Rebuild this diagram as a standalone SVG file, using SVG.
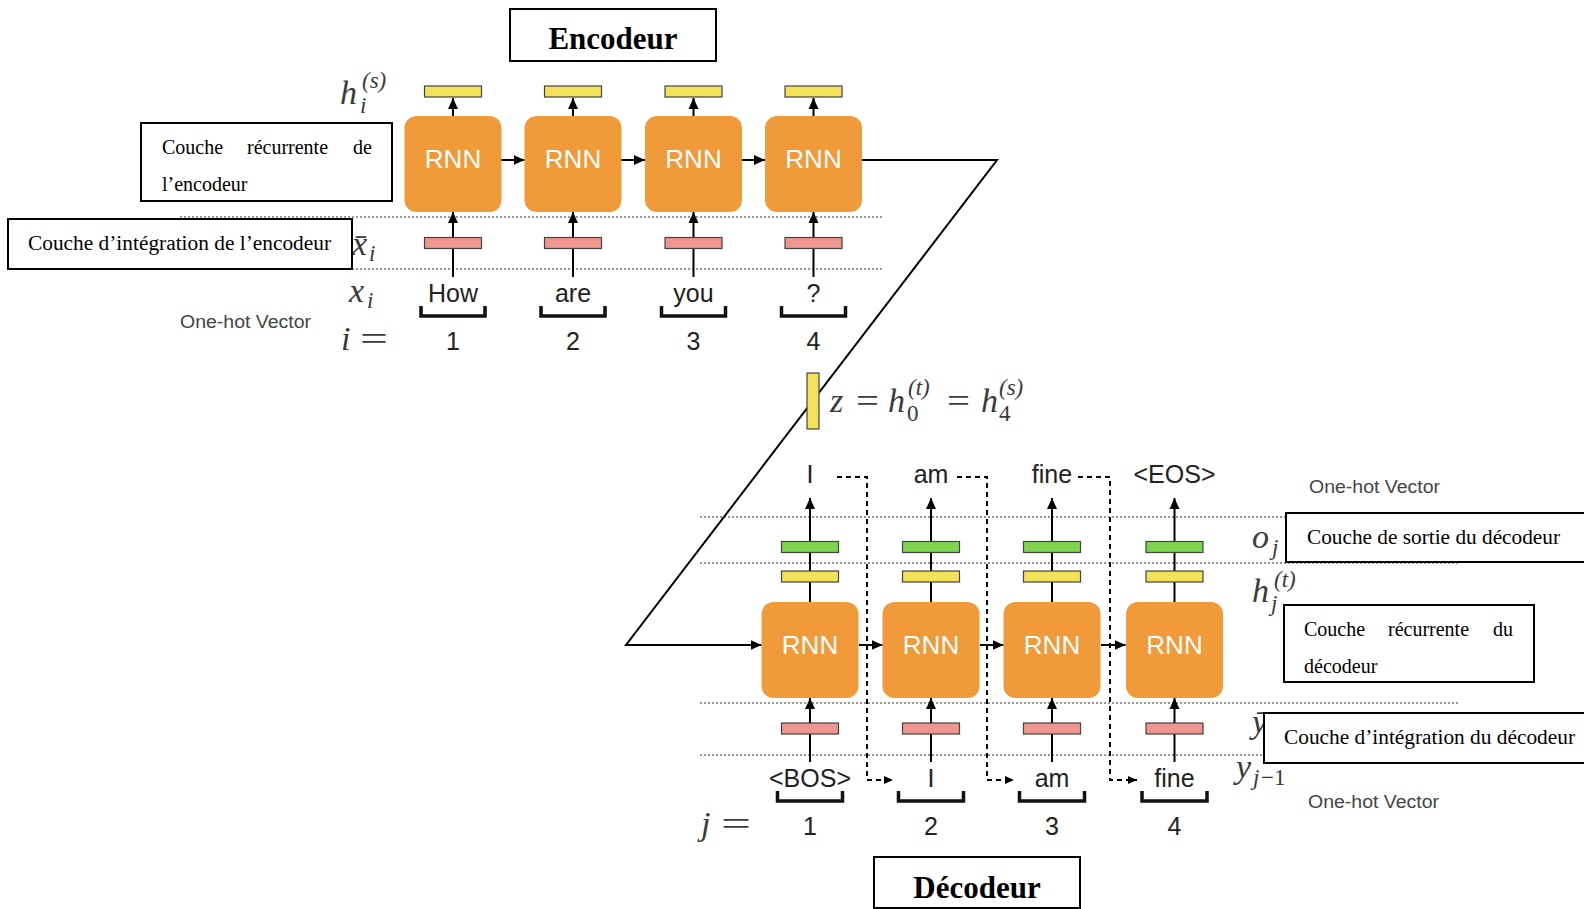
<svg xmlns="http://www.w3.org/2000/svg" width="1584" height="909" viewBox="0 0 1584 909">
<defs>
<style>
.rnn{fill:#F09A39;}
.rt{font-family:"Liberation Sans",Arial,sans-serif;font-size:26px;fill:#fff;text-anchor:middle;}
.yb{fill:#F4E15A;stroke:#444;stroke-width:1.2;}
.gb{fill:#7ED44F;stroke:#444;stroke-width:1.2;}
.pb{fill:#EF9690;stroke:#444;stroke-width:1.2;}
.dot{stroke:#777;stroke-width:1.5;stroke-dasharray:2 2;fill:none;}
.ln{stroke:#000;stroke-width:2;fill:none;}
.dash{stroke:#000;stroke-width:2;stroke-dasharray:5 4;fill:none;}
.w{font-family:"Liberation Sans",Arial,sans-serif;font-size:25px;fill:#222;text-anchor:middle;}
.br{stroke:#111;stroke-width:3.5;fill:none;}
.oh{font-family:"Liberation Sans",Arial,sans-serif;font-size:18px;fill:#444;}
.m{font-family:"Liberation Serif","Times New Roman",serif;font-style:italic;font-size:34px;fill:#3a3a3a;}
.ms{font-family:"Liberation Serif","Times New Roman",serif;font-style:italic;font-size:23px;fill:#3a3a3a;}
.mr{font-family:"Liberation Serif","Times New Roman",serif;font-size:34px;fill:#3a3a3a;}
.mrs{font-family:"Liberation Serif","Times New Roman",serif;font-size:23px;fill:#3a3a3a;}
.box{fill:#fff;stroke:#000;stroke-width:2;}
.lt{font-family:"Liberation Serif","Times New Roman",serif;font-size:20px;fill:#000;}
.tt{font-family:"Liberation Serif","Times New Roman",serif;font-size:31px;font-weight:bold;fill:#000;text-anchor:middle;}
</style>
<marker id="ah" markerUnits="userSpaceOnUse" markerWidth="12" markerHeight="12" viewBox="0 0 12 12" refX="11" refY="6" orient="auto">
<path d="M0,1 L11,6 L0,11 Z" fill="#000"/>
</marker>
<marker id="ahs" markerUnits="userSpaceOnUse" markerWidth="10" markerHeight="10" viewBox="0 0 10 10" refX="9" refY="5" orient="auto">
<path d="M0,1 L9,5 L0,9 Z" fill="#000"/>
</marker>
</defs>
<rect width="1584" height="909" fill="#fff"/>

<!-- dotted guide lines -->
<g id="guides">
<line class="dot" x1="180" y1="217" x2="884" y2="217"/>
<line class="dot" x1="180" y1="269" x2="884" y2="269"/>
<line class="dot" x1="700" y1="517" x2="1286" y2="517"/>
<line class="dot" x1="700" y1="563" x2="1458" y2="563"/>
<line class="dot" x1="700" y1="703" x2="1458" y2="703"/>
<line class="dot" x1="700" y1="755" x2="1264" y2="755"/>
</g>

<!-- connectors -->
<g id="connectors">
<line class="ln" x1="453" y1="277" x2="453" y2="212" marker-end="url(#ah)"/>
<line class="ln" x1="573" y1="277" x2="573" y2="212" marker-end="url(#ah)"/>
<line class="ln" x1="693.5" y1="277" x2="693.5" y2="212" marker-end="url(#ah)"/>
<line class="ln" x1="813.5" y1="277" x2="813.5" y2="212" marker-end="url(#ah)"/>
<line class="ln" x1="453" y1="116" x2="453" y2="98" marker-end="url(#ah)"/>
<line class="ln" x1="573" y1="116" x2="573" y2="98" marker-end="url(#ah)"/>
<line class="ln" x1="693.5" y1="116" x2="693.5" y2="98" marker-end="url(#ah)"/>
<line class="ln" x1="813.5" y1="116" x2="813.5" y2="98" marker-end="url(#ah)"/>
<line class="ln" x1="501" y1="160" x2="524.5" y2="160" marker-end="url(#ah)"/>
<line class="ln" x1="621" y1="160" x2="645" y2="160" marker-end="url(#ah)"/>
<line class="ln" x1="742" y1="160" x2="765" y2="160" marker-end="url(#ah)"/>
<path class="ln" d="M862,160 L997,160 L626,645 L761.5,645" marker-end="url(#ah)"/>
<line class="ln" x1="810" y1="762" x2="810" y2="698" marker-end="url(#ah)"/>
<line class="ln" x1="931" y1="762" x2="931" y2="698" marker-end="url(#ah)"/>
<line class="ln" x1="1052" y1="762" x2="1052" y2="698" marker-end="url(#ah)"/>
<line class="ln" x1="1174.5" y1="762" x2="1174.5" y2="698" marker-end="url(#ah)"/>
<line class="ln" x1="810" y1="602" x2="810" y2="498" marker-end="url(#ah)"/>
<line class="ln" x1="931" y1="602" x2="931" y2="498" marker-end="url(#ah)"/>
<line class="ln" x1="1052" y1="602" x2="1052" y2="498" marker-end="url(#ah)"/>
<line class="ln" x1="1174.5" y1="602" x2="1174.5" y2="498" marker-end="url(#ah)"/>
<line class="ln" x1="859" y1="645" x2="882.5" y2="645" marker-end="url(#ah)"/>
<line class="ln" x1="980" y1="645" x2="1003.5" y2="645" marker-end="url(#ah)"/>
<line class="ln" x1="1101" y1="645" x2="1125.5" y2="645" marker-end="url(#ah)"/>
<path class="dash" d="M837,477 L867,477 L867,780 L893,780" marker-end="url(#ahs)"/>
<path class="dash" d="M957,477 L987,477 L987,780 L1014,780" marker-end="url(#ahs)"/>
<path class="dash" d="M1078,477 L1110,477 L1110,780 L1137,780" marker-end="url(#ahs)"/>
</g>

<!-- encoder nodes -->
<g id="enc1">
<rect class="yb" x="424.5" y="86" width="57" height="11"/>
<rect class="rnn" x="404.5" y="116" width="97" height="96" rx="12"/>
<text class="rt" x="453" y="168">RNN</text>
<rect class="pb" x="424.5" y="237.5" width="57" height="11"/>
<text class="w" x="453" y="302">How</text>
<path class="br" d="M421,306 V316 H485 V306"/>
<text class="w" x="453" y="350">1</text>
</g>
<g id="enc2">
<rect class="yb" x="544.5" y="86" width="57" height="11"/>
<rect class="rnn" x="524.5" y="116" width="97" height="96" rx="12"/>
<text class="rt" x="573" y="168">RNN</text>
<rect class="pb" x="544.5" y="237.5" width="57" height="11"/>
<text class="w" x="573" y="302">are</text>
<path class="br" d="M541,306 V316 H605 V306"/>
<text class="w" x="573" y="350">2</text>
</g>
<g id="enc3">
<rect class="yb" x="665" y="86" width="57" height="11"/>
<rect class="rnn" x="645" y="116" width="97" height="96" rx="12"/>
<text class="rt" x="693.5" y="168">RNN</text>
<rect class="pb" x="665" y="237.5" width="57" height="11"/>
<text class="w" x="693.5" y="302">you</text>
<path class="br" d="M661.5,306 V316 H725.5 V306"/>
<text class="w" x="693.5" y="350">3</text>
</g>
<g id="enc4">
<rect class="yb" x="785" y="86" width="57" height="11"/>
<rect class="rnn" x="765" y="116" width="97" height="96" rx="12"/>
<text class="rt" x="813.5" y="168">RNN</text>
<rect class="pb" x="785" y="237.5" width="57" height="11"/>
<text class="w" x="813.5" y="302">?</text>
<path class="br" d="M781.5,306 V316 H845.5 V306"/>
<text class="w" x="813.5" y="350">4</text>
</g>

<!-- context vector -->
<g id="z">
<rect class="yb" x="807" y="373" width="12" height="56"/>
<text class="m" x="830" y="412">z</text>
<text class="mr" x="856" y="412" textLength="23" lengthAdjust="spacingAndGlyphs">=</text>
<text class="m" x="888" y="412">h</text>
<text class="ms" x="908" y="395">(t)</text>
<text class="mrs" x="907" y="421">0</text>
<text class="mr" x="947" y="412" textLength="23" lengthAdjust="spacingAndGlyphs">=</text>
<text class="m" x="981" y="412">h</text>
<text class="ms" x="999" y="395">(s)</text>
<text class="mrs" x="999" y="421">4</text>
</g>

<!-- decoder nodes -->
<g id="dec1">
<text class="w" x="810" y="483">I</text>
<rect class="gb" x="781.5" y="541.5" width="57" height="11"/>
<rect class="yb" x="781.5" y="571" width="57" height="11"/>
<rect class="rnn" x="761.5" y="602" width="97" height="96" rx="12"/>
<text class="rt" x="810" y="654">RNN</text>
<rect class="pb" x="781.5" y="723" width="57" height="11"/>
<text class="w" x="810" y="787">&lt;BOS&gt;</text>
<path class="br" d="M777.5,791 V801 H842.5 V791"/>
<text class="w" x="810" y="835">1</text>
</g>
<g id="dec2">
<text class="w" x="931" y="483">am</text>
<rect class="gb" x="902.5" y="541.5" width="57" height="11"/>
<rect class="yb" x="902.5" y="571" width="57" height="11"/>
<rect class="rnn" x="882.5" y="602" width="97" height="96" rx="12"/>
<text class="rt" x="931" y="654">RNN</text>
<rect class="pb" x="902.5" y="723" width="57" height="11"/>
<text class="w" x="931" y="787">I</text>
<path class="br" d="M898.5,791 V801 H963.5 V791"/>
<text class="w" x="931" y="835">2</text>
</g>
<g id="dec3">
<text class="w" x="1052" y="483">fine</text>
<rect class="gb" x="1023.5" y="541.5" width="57" height="11"/>
<rect class="yb" x="1023.5" y="571" width="57" height="11"/>
<rect class="rnn" x="1003.5" y="602" width="97" height="96" rx="12"/>
<text class="rt" x="1052" y="654">RNN</text>
<rect class="pb" x="1023.5" y="723" width="57" height="11"/>
<text class="w" x="1052" y="787">am</text>
<path class="br" d="M1019.5,791 V801 H1084.5 V791"/>
<text class="w" x="1052" y="835">3</text>
</g>
<g id="dec4">
<text class="w" x="1174.5" y="483">&lt;EOS&gt;</text>
<rect class="gb" x="1146" y="541.5" width="57" height="11"/>
<rect class="yb" x="1146" y="571" width="57" height="11"/>
<rect class="rnn" x="1126" y="602" width="97" height="96" rx="12"/>
<text class="rt" x="1174.5" y="654">RNN</text>
<rect class="pb" x="1146" y="723" width="57" height="11"/>
<text class="w" x="1174.5" y="787">fine</text>
<path class="br" d="M1142,791 V801 H1207 V791"/>
<text class="w" x="1174.5" y="835">4</text>
</g>

<!-- math labels -->
<g id="enc-math">
<text class="m" x="340" y="104">h</text>
<text class="ms" x="362" y="88">(s)</text>
<text class="ms" x="360" y="113">i</text>
<text class="m" x="352" y="255">x&#x304;</text>
<text class="ms" x="369" y="261">i</text>
<text class="m" x="349" y="302">x</text>
<text class="ms" x="367" y="308">i</text>
<text class="m" x="341" y="350">i</text>
<text class="mr" x="360" y="350" textLength="28" lengthAdjust="spacingAndGlyphs">=</text>
<text class="oh" x="180" y="328" textLength="131" lengthAdjust="spacingAndGlyphs">One-hot Vector</text>
</g>
<g id="dec-math">
<text class="m" x="1252" y="548">o</text>
<text class="ms" x="1272" y="555">j</text>
<text class="m" x="1252" y="602">h</text>
<text class="ms" x="1274" y="587">(t)</text>
<text class="ms" x="1271" y="611">j</text>
<text class="m" x="1252" y="733">y&#x304;</text>
<text class="m" x="1236" y="778">y</text>
<text class="ms" x="1253" y="785">j</text>
<text class="mrs" x="1261" y="785">−1</text>
<text class="m" x="701" y="835">j</text>
<text class="mr" x="721" y="835" textLength="30" lengthAdjust="spacingAndGlyphs">=</text>
<text class="oh" x="1309" y="493" textLength="131" lengthAdjust="spacingAndGlyphs">One-hot Vector</text>
<text class="oh" x="1308" y="808" textLength="131" lengthAdjust="spacingAndGlyphs">One-hot Vector</text>
</g>

<!-- label boxes -->
<g id="title-enc">
<rect class="box" x="510" y="9" width="206" height="52"/>
<text class="tt" x="613" y="49">Encodeur</text>
</g>
<g id="label-enc-rec">
<rect class="box" x="141" y="123" width="251" height="78"/>
<text class="lt" x="162" y="154">Couche</text>
<text class="lt" x="247" y="154">récurrente</text>
<text class="lt" x="372" y="154" text-anchor="end">de</text>
<text class="lt" x="162" y="191">l’encodeur</text>
</g>
<g id="label-enc-emb">
<rect class="box" x="8" y="219" width="344" height="50"/>
<text class="lt" x="28" y="250" textLength="303" lengthAdjust="spacingAndGlyphs">Couche d’intégration de l’encodeur</text>
</g>
<g id="label-dec-out">
<rect class="box" x="1286" y="513" width="310" height="49"/>
<text class="lt" x="1307" y="544" textLength="253" lengthAdjust="spacingAndGlyphs">Couche de sortie du décodeur</text>
</g>
<g id="label-dec-rec">
<rect class="box" x="1284" y="605" width="250" height="77"/>
<text class="lt" x="1304" y="636">Couche</text>
<text class="lt" x="1388" y="636">récurrente</text>
<text class="lt" x="1513" y="636" text-anchor="end">du</text>
<text class="lt" x="1304" y="673">décodeur</text>
</g>
<g id="label-dec-emb">
<rect class="box" x="1264" y="713" width="330" height="50"/>
<text class="lt" x="1284" y="744" textLength="291" lengthAdjust="spacingAndGlyphs">Couche d’intégration du décodeur</text>
</g>
<g id="title-dec">
<rect class="box" x="874" y="857" width="206" height="51"/>
<text class="tt" x="977" y="898">Décodeur</text>
</g>
</svg>
